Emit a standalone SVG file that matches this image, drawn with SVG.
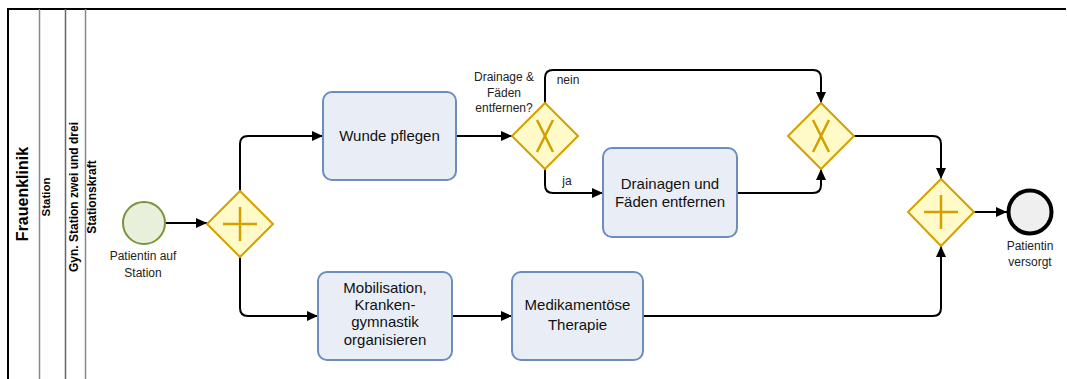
<svg xmlns="http://www.w3.org/2000/svg" width="1067" height="379" viewBox="0 0 1067 379">
<style>
.lbl{font-family:"Liberation Sans",Arial,sans-serif;fill:#222}
.task rect{fill:#e9eef6;stroke:#6c8ebf;stroke-width:2}
.task text{font-family:"Liberation Sans",Arial,sans-serif;font-size:15px;fill:#111;text-anchor:middle}
.gw polygon{fill:#fffac8;stroke:#d4a000;stroke-width:2}
.gw path{stroke:#d4a000;stroke-width:2.5;fill:none}
.flow{fill:none;stroke:#000;stroke-width:2;marker-end:url(#arr)}
.small{font-family:"Liberation Sans",Arial,sans-serif;font-size:12px;fill:#222;text-anchor:middle}
.lane{font-family:"Liberation Sans",Arial,sans-serif;font-weight:bold;fill:#000;text-anchor:middle}
</style>
<defs>
<marker id="arr" markerUnits="userSpaceOnUse" markerWidth="11" markerHeight="10" refX="11" refY="5" orient="auto">
<path d="M0,0 L11,5 L0,10 z" fill="#000"/>
</marker>
</defs>
<rect width="1067" height="379" fill="#fff"/>
<g id="pool">
<line x1="8" y1="9" x2="1066" y2="9" stroke="#000" stroke-width="2"/>
<line x1="8" y1="8" x2="8" y2="379" stroke="#000" stroke-width="2"/>
<line x1="39.5" y1="9" x2="39.5" y2="379" stroke="#888" stroke-width="1.5"/>
<line x1="65.5" y1="9" x2="65.5" y2="379" stroke="#666" stroke-width="1.5"/>
<line x1="85.5" y1="9" x2="85.5" y2="379" stroke="#888" stroke-width="1.5"/>
<text class="lane" font-size="16" transform="translate(28,194) rotate(-90)">Frauenklinik</text>
<text class="lane" font-size="11.5" transform="translate(50,197) rotate(-90)">Station</text>
<text class="lane" font-size="12" transform="translate(78,197) rotate(-90)">Gyn. Station zwei und drei</text>
<text class="lane" font-size="12" transform="translate(96,197) rotate(-90)">Stationskraft</text>
</g>
<g id="connectors">
<path class="flow" d="M166,223 L207,223"/>
<path class="flow" d="M240,191 L240,144 Q240,136 248,136 L323,136"/>
<path class="flow" d="M240,257 L240,308 Q240,316 248,316 L318,316"/>
<path class="flow" d="M456,136 L512,136"/>
<path class="flow" d="M545,103 L545,78 Q545,70 553,70 L813,70 Q821,70 821,78 L821,103"/>
<path class="flow" d="M545,169 L545,185 Q545,193 553,193 L603,193"/>
<path class="flow" d="M737,193 L813,193 Q821,193 821,185 L821,169"/>
<path class="flow" d="M854,136 L933,136 Q941,136 941,144 L941,179"/>
<path class="flow" d="M452,316 L512,316"/>
<path class="flow" d="M643,316 L933,316 Q941,316 941,308 L941,246"/>
<path class="flow" d="M974,212 L1007,212"/>
<text class="small" x="568" y="84">nein</text>
<text class="small" x="567" y="185">ja</text>
</g>
<g id="start">
<circle cx="144" cy="223" r="21" fill="#e8f0dc" stroke="#77933c" stroke-width="2"/>
<text class="small" x="143" y="260">Patientin auf</text>
<text class="small" x="143" y="277">Station</text>
</g>
<g id="gw1" class="gw">
<polygon points="240,191 273,224 240,257 207,224"/>
<path d="M223,224 H257 M240,207 V241"/>
</g>
<g id="task_wunde" class="task">
<rect x="323" y="92" width="133" height="88" rx="9"/>
<text x="389.5" y="141">Wunde pflegen</text>
</g>
<g id="xor1" class="gw">
<polygon points="545,103 578,136 545,169 512,136"/>
<path d="M537,120 L553,152 M553,120 L537,152"/>
<text class="small" x="504" y="81">Drainage &amp;</text>
<text class="small" x="504" y="97">Fäden</text>
<text class="small" x="504" y="112">entfernen?</text>
</g>
<g id="task_drain" class="task">
<rect x="603" y="148" width="134" height="89" rx="9"/>
<text x="670" y="189">Drainagen und</text>
<text x="670" y="207">Fäden entfernen</text>
</g>
<g id="xor2" class="gw">
<polygon points="821,103 854,136 821,169 788,136"/>
<path d="M813,120 L829,152 M829,120 L813,152"/>
</g>
<g id="task_mob" class="task">
<rect x="318" y="272" width="134" height="88" rx="9"/>
<text x="385" y="293">Mobilisation,</text>
<text x="385" y="310">Kranken-</text>
<text x="385" y="327">gymnastik</text>
<text x="385" y="345">organisieren</text>
</g>
<g id="task_med" class="task">
<rect x="512" y="272" width="131" height="88" rx="9"/>
<text x="577.5" y="310">Medikamentöse</text>
<text x="577.5" y="330">Therapie</text>
</g>
<g id="gw2" class="gw">
<polygon points="941,179 974,212 941,246 908,212"/>
<path d="M924,212 H958 M941,195 V229"/>
</g>
<g id="end">
<circle cx="1030" cy="212" r="21.5" fill="#efefef" stroke="#000" stroke-width="4"/>
<text class="small" x="1030" y="250">Patientin</text>
<text class="small" x="1030" y="266">versorgt</text>
</g>
</svg>
